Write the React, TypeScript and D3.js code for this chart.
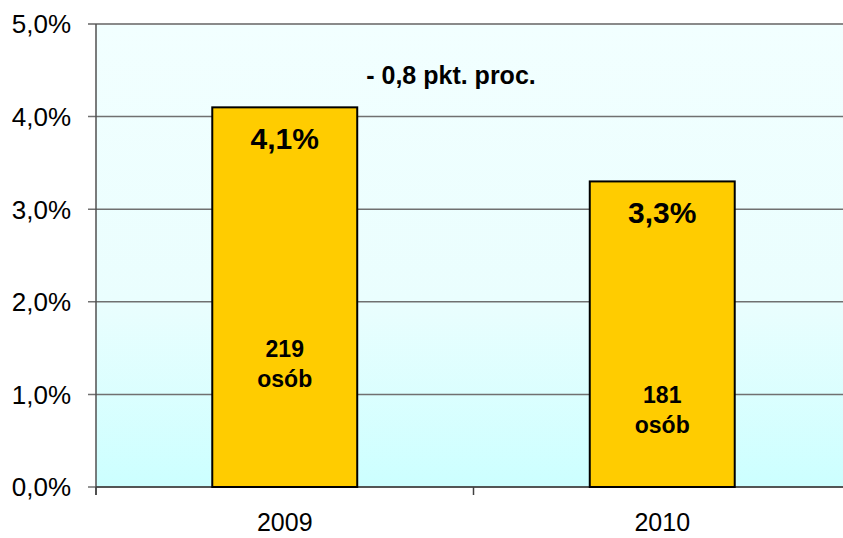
import React from 'react'
import * as d3 from 'd3'

const categories = ['2009', '2010']
const rates = [4.1, 3.3]
const rateLabels = ['4,1%', '3,3%']
const countLabels = [['219', 'osób'], ['181', 'osób']]
const countLabelLevel = [1.49, 0.99]
const yTicks = [0, 1, 2, 3, 4, 5]
const yTickLabels = ['0,0%', '1,0%', '2,0%', '3,0%', '4,0%', '5,0%']
const changeLabel = '- 0,8 pkt. proc.'

const FONT = 'Arial, "Liberation Sans", sans-serif'

export default function App() {
  const width = 843
  const height = 538
  const margin = { top: 24, right: -8, bottom: 51, left: 96 }

  const x = d3.scaleBand<string>()
    .domain(categories)
    .range([margin.left, width - margin.right])
    .paddingInner(0.616)
    .paddingOuter(0.308)

  const y = d3.scaleLinear()
    .domain([0, 5])
    .range([height - margin.bottom, margin.top])

  const step = x.step()
  const left = margin.left
  const right = width - margin.right
  const catTicks = [0, 1, 2].map(i => left + i * step)

  return (
    <svg
      width={width}
      height={height}
      style={{ position: 'absolute', left: 0, top: 0, background: '#fff' }}
    >
      <defs>
        <linearGradient id="bg" x1="0" y1="0" x2="0" y2="1">
          <stop offset="0%" stopColor="#F2FFFF" />
          <stop offset="60%" stopColor="#EAFEFE" />
          <stop offset="100%" stopColor="#CCFFFF" />
        </linearGradient>
      </defs>

      {/* plot area background */}
      <rect x={left} y={y(5)} width={right - left} height={y(0) - y(5)} fill="url(#bg)" />

      {/* gridlines and y ticks */}
      {yTicks.map((t, i) => (
        <g key={t}>
          <line x1={left - 8} x2={right} y1={y(t)} y2={y(t)}
            stroke={t === 5 ? '#8a8a8a' : '#707070'} strokeWidth={t === 5 ? 2 : 1.5} />
          <text x={71} y={y(t)} dy="0.36em" textAnchor="end"
            style={{ fontFamily: FONT, fontSize: 26, fill: '#000' }}>
            {yTickLabels[i]}
          </text>
        </g>
      ))}

      {/* y axis */}
      <line x1={left} x2={left} y1={y(5)} y2={y(0) + 8} stroke="#505050" strokeWidth={1.5} />
      {/* x axis */}
      <line x1={left} x2={right} y1={y(0)} y2={y(0)} stroke="#404040" strokeWidth={1.5} />
      {catTicks.map((cx, i) => (
        <line key={i} x1={cx} x2={cx} y1={y(0)} y2={y(0) + 8} stroke="#404040" strokeWidth={1.5} />
      ))}

      {/* bars */}
      {categories.map((c, i) => {
        const bx = x(c) as number
        const bw = x.bandwidth()
        const cx = bx + bw / 2
        return (
          <g key={c}>
            <rect x={bx} y={y(rates[i])} width={bw} height={y(0) - y(rates[i])}
              fill="#FFCC00" stroke="#000" strokeWidth={2} />
            <text x={cx} y={y(rates[i]) + 31} dy="0.35em" textAnchor="middle"
              style={{ fontFamily: FONT, fontSize: 30, fontWeight: 'bold', fill: '#000' }}>
              {rateLabels[i]}
            </text>
            {countLabels[i].map((t, j) => (
              <text key={j} x={cx} y={y(countLabelLevel[i]) + j * 30} dy="0.35em" textAnchor="middle"
                style={{ fontFamily: FONT, fontSize: 23, fontWeight: 'bold', fill: '#000' }}>
                {t}
              </text>
            ))}
            <text x={cx} y={522} dy="0.35em" textAnchor="middle"
              style={{ fontFamily: FONT, fontSize: 25, fill: '#000' }}>
              {c}
            </text>
          </g>
        )
      })}

      <text x={451} y={75} dy="0.35em" textAnchor="middle"
        style={{ fontFamily: FONT, fontSize: 25, fontWeight: 'bold', fill: '#000' }}>
        {changeLabel}
      </text>
    </svg>
  )
}
